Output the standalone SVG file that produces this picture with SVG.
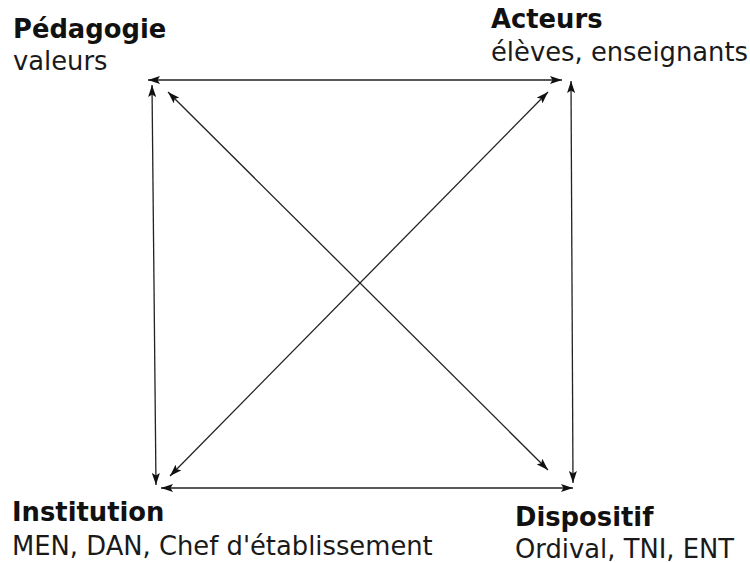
<svg xmlns="http://www.w3.org/2000/svg" width="750" height="563" viewBox="0 0 750 563">
  <style>
    .title { font-family: "DejaVu Sans", sans-serif; font-weight: bold; font-size: 25.8px; fill: #111; }
    .sub { font-family: "DejaVu Sans", sans-serif; font-size: 25.8px; fill: #1a1a1a; }
    .link { stroke: #222; stroke-width: 1.3; fill: none; marker-start: url(#arrow); marker-end: url(#arrow); }
  </style>
  <defs>
    <marker id="arrow" viewBox="0 0 12 8" refX="12" refY="4" markerWidth="12" markerHeight="8" markerUnits="userSpaceOnUse" orient="auto-start-reverse">
      <path d="M0,0 L12,4 L0,8 L2.5,4 Z" fill="#111"/>
    </marker>
  </defs>
  <rect width="750" height="563" fill="#fff"/>

  <g id="connectors">
    <line class="link" x1="148" y1="80" x2="562" y2="80"/>
    <line class="link" x1="161" y1="488" x2="573" y2="488"/>
    <line class="link" x1="152" y1="85" x2="156" y2="485"/>
    <line class="link" x1="571" y1="81" x2="573" y2="483"/>
    <line class="link" x1="168" y1="92" x2="548" y2="470"/>
    <line class="link" x1="548" y1="92" x2="170" y2="476"/>
  </g>

  <g id="pedagogie">
    <text class="title" x="13" y="38">Pédagogie</text>
    <text class="sub" x="13" y="70">valeurs</text>
  </g>
  <g id="acteurs">
    <text class="title" x="491" y="28">Acteurs</text>
    <text class="sub" x="491" y="61">élèves, enseignants</text>
  </g>
  <g id="institution">
    <text class="title" x="12" y="521">Institution</text>
    <text class="sub" x="12" y="555">MEN, DAN, Chef d'établissement</text>
  </g>
  <g id="dispositif">
    <text class="title" x="515" y="526">Dispositif</text>
    <text class="sub" x="515" y="558">Ordival, TNI, ENT</text>
  </g>
</svg>
